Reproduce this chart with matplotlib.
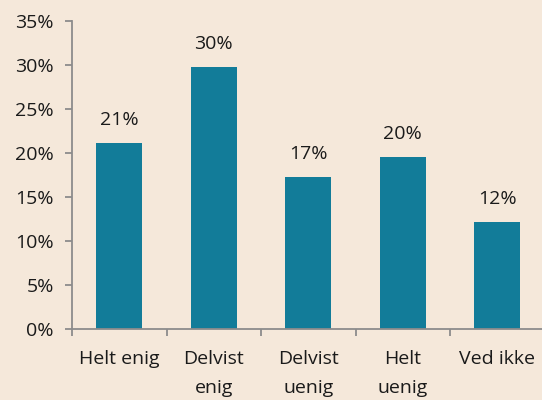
import matplotlib.pyplot as plt
import numpy as np

# survey answers (share of respondents)
categories = ["Helt enig", "Delvist\nenig", "Delvist\nuenig", "Helt\nuenig", "Ved ikke"]
values = [21.2, 29.8, 17.3, 19.6, 12.2]
yticks = [0, 5, 10, 15, 20, 25, 30, 35]

bg = "#f5e8da"
bar_col = "#127c99"
axis_col = "#8c8c8c"
txt_col = "#1a1a1a"

plt.rcParams['font.family'] = ['Open Sans', 'DejaVu Sans']
fs = 14

fig = plt.figure(figsize=(5.42, 4.0), dpi=100, facecolor=bg)
ax = fig.add_axes([72 / 542, 71 / 400, 472.5 / 542, 307.7 / 400])
ax.set_facecolor(bg)

x = np.arange(len(categories))
ax.bar(x, values, width=0.49, color=bar_col)

for xi, v in zip(x, values):
    ax.text(xi, v + 1.6, "%d%%" % round(v), ha='center', va='bottom',
            fontsize=fs, color=txt_col)

ax.set_xlim(-0.5, len(categories) - 0.5)
ax.set_ylim(0, 35)
ax.set_yticks(yticks)
ax.set_yticklabels(["%d%%" % t for t in yticks], fontsize=fs, color=txt_col)

# category labels between boundary ticks
ax.set_xticks(np.arange(len(categories) + 1) - 0.5)
ax.set_xticklabels([])
ax.set_xticks(x, minor=True)
ax.set_xticklabels(categories, minor=True, fontsize=fs, color=txt_col,
                   linespacing=1.8, va='top')
ax.tick_params(axis='x', which='minor', length=0, pad=15)
ax.tick_params(axis='x', which='major', length=5, color=axis_col, width=1.3)
ax.tick_params(axis='y', length=5, color=axis_col, width=1.3, pad=8)

for s in ['top', 'right']:
    ax.spines[s].set_visible(False)
for s in ['left', 'bottom']:
    ax.spines[s].set_color(axis_col)
    ax.spines[s].set_linewidth(1.3)

fig.savefig('out.png', dpi=100, facecolor=bg)
